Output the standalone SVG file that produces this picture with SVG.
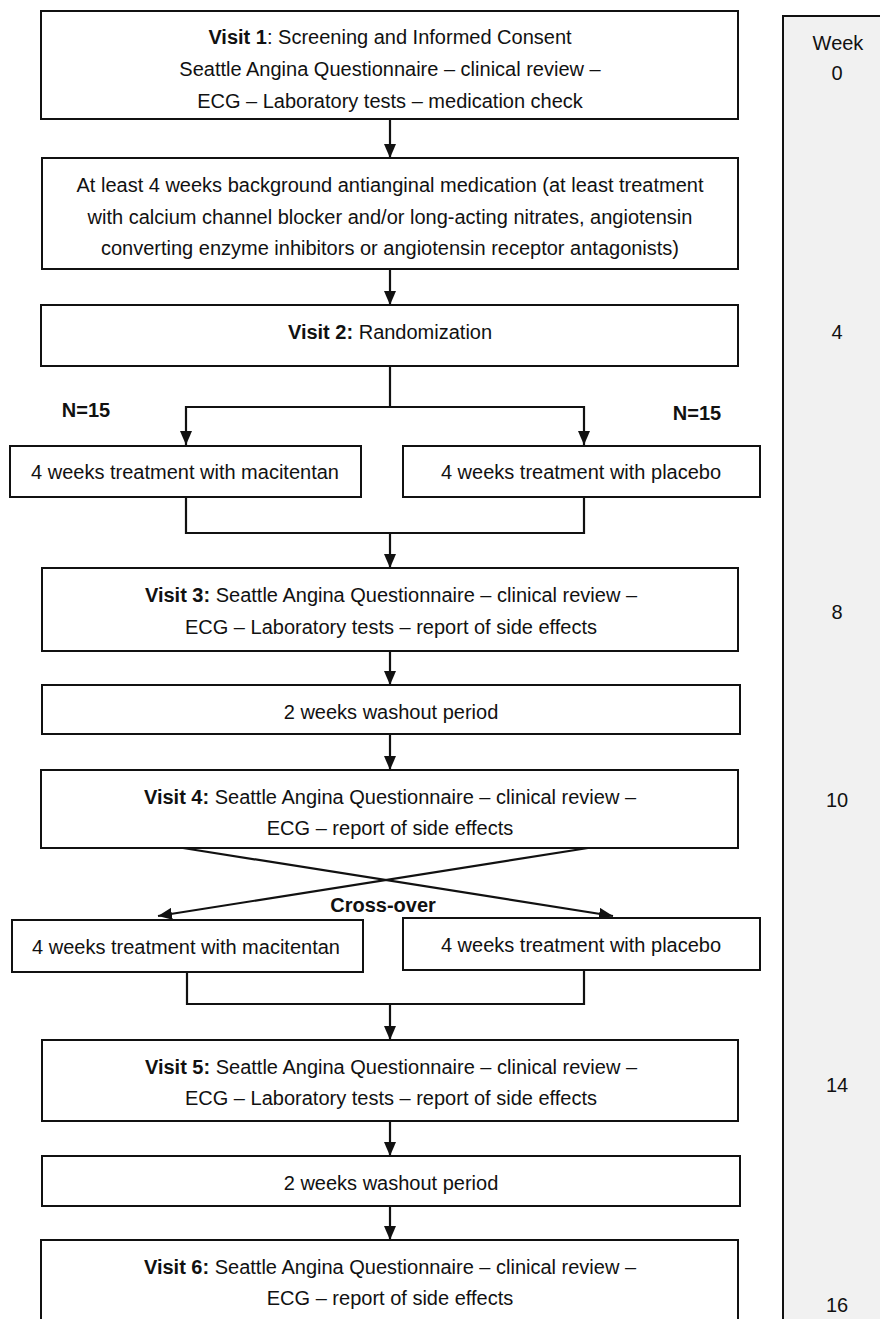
<svg xmlns="http://www.w3.org/2000/svg" width="880" height="1319" viewBox="0 0 880 1319">
<style>
.box{fill:#fff;stroke:#111;stroke-width:2}
.t{font-family:"Liberation Sans",Arial,sans-serif;font-size:20px;fill:#111;text-anchor:middle}
.b{font-weight:bold}
.c{fill:none;stroke:#111;stroke-width:2.2}
</style>
<defs>
<marker id="ah" markerUnits="userSpaceOnUse" markerWidth="14" markerHeight="12" refX="14" refY="6" orient="auto">
<path d="M0,0 L14,6 L0,12 z" fill="#111"/>
</marker>
</defs>
<rect width="880" height="1319" fill="#fff"/>
<g id="week-panel">
<rect x="783" y="16" width="110" height="1320" fill="#f1f1f1" stroke="#111" stroke-width="2"/>
<text class="t" x="838" y="50">Week</text>
<text class="t" x="837" y="80">0</text>
<text class="t" x="837" y="339">4</text>
<text class="t" x="837" y="619">8</text>
<text class="t" x="837" y="807">10</text>
<text class="t" x="837" y="1092">14</text>
<text class="t" x="837" y="1312">16</text>
</g>
<g id="connectors">
<line class="c" x1="390" y1="119" x2="390" y2="158" marker-end="url(#ah)"/>
<line class="c" x1="390" y1="269" x2="390" y2="305" marker-end="url(#ah)"/>
<polyline class="c" points="390,366 390,407 186,407 186,445" marker-end="url(#ah)"/>
<polyline class="c" points="390,407 584,407 584,445" marker-end="url(#ah)"/>
<polyline class="c" points="186,497 186,533 584,533 584,497"/>
<line class="c" x1="390" y1="533" x2="390" y2="568" marker-end="url(#ah)"/>
<line class="c" x1="390" y1="651" x2="390" y2="685" marker-end="url(#ah)"/>
<line class="c" x1="390" y1="734" x2="390" y2="770" marker-end="url(#ah)"/>
<line class="c" x1="183" y1="848" x2="613" y2="916" marker-end="url(#ah)"/>
<line class="c" x1="588" y1="848" x2="158" y2="916" marker-end="url(#ah)"/>
<polyline class="c" points="187,972 187,1004 584,1004 584,970"/>
<line class="c" x1="390" y1="1004" x2="390" y2="1040" marker-end="url(#ah)"/>
<line class="c" x1="390" y1="1121" x2="390" y2="1156" marker-end="url(#ah)"/>
<line class="c" x1="390" y1="1206" x2="390" y2="1240" marker-end="url(#ah)"/>
<text class="t b" x="86" y="417">N=15</text>
<text class="t b" x="697" y="420">N=15</text>
<text class="t b" x="383" y="912">Cross-over</text>
</g>
<g id="visit1">
<rect class="box" x="41" y="11" width="697" height="108"/>
<text class="t" x="390" y="44"><tspan class="b">Visit 1</tspan>: Screening and Informed Consent</text>
<text class="t" x="390" y="76">Seattle Angina Questionnaire – clinical review –</text>
<text class="t" x="390" y="108">ECG – Laboratory tests – medication check</text>
</g>
<g id="background">
<rect class="box" x="42" y="158" width="696" height="111"/>
<text class="t" x="390" y="192">At least 4 weeks background antianginal medication (at least treatment</text>
<text class="t" x="390" y="224">with calcium channel blocker and/or long-acting nitrates, angiotensin</text>
<text class="t" x="390" y="255">converting enzyme inhibitors or angiotensin receptor antagonists)</text>
</g>
<g id="visit2">
<rect class="box" x="41" y="305" width="697" height="61"/>
<text class="t" x="390" y="339"><tspan class="b">Visit 2:</tspan> Randomization</text>
</g>
<g id="macitentan1">
<rect class="box" x="10" y="446" width="351" height="51"/>
<text class="t" x="185" y="479">4 weeks treatment with macitentan</text>
</g>
<g id="placebo1">
<rect class="box" x="403" y="446" width="357" height="51"/>
<text class="t" x="581" y="479">4 weeks treatment with placebo</text>
</g>
<g id="visit3">
<rect class="box" x="42" y="568" width="696" height="83"/>
<text class="t" x="391" y="602"><tspan class="b">Visit 3:</tspan> Seattle Angina Questionnaire – clinical review –</text>
<text class="t" x="391" y="634">ECG – Laboratory tests – report of side effects</text>
</g>
<g id="washout1">
<rect class="box" x="42" y="685" width="698" height="49"/>
<text class="t" x="391" y="719">2 weeks washout period</text>
</g>
<g id="visit4">
<rect class="box" x="41" y="770" width="697" height="78"/>
<text class="t" x="390" y="804"><tspan class="b">Visit 4:</tspan> Seattle Angina Questionnaire – clinical review –</text>
<text class="t" x="390" y="835">ECG – report of side effects</text>
</g>
<g id="macitentan2">
<rect class="box" x="12" y="920" width="351" height="52"/>
<text class="t" x="186" y="954">4 weeks treatment with macitentan</text>
</g>
<g id="placebo2">
<rect class="box" x="403" y="918" width="357" height="52"/>
<text class="t" x="581" y="952">4 weeks treatment with placebo</text>
</g>
<g id="visit5">
<rect class="box" x="42" y="1040" width="696" height="81"/>
<text class="t" x="391" y="1074"><tspan class="b">Visit 5:</tspan> Seattle Angina Questionnaire – clinical review –</text>
<text class="t" x="391" y="1105">ECG – Laboratory tests – report of side effects</text>
</g>
<g id="washout2">
<rect class="box" x="42" y="1156" width="698" height="50"/>
<text class="t" x="391" y="1190">2 weeks washout period</text>
</g>
<g id="visit6">
<rect class="box" x="41" y="1240" width="697" height="100"/>
<text class="t" x="390" y="1274"><tspan class="b">Visit 6:</tspan> Seattle Angina Questionnaire – clinical review –</text>
<text class="t" x="390" y="1305">ECG – report of side effects</text>
</g>
</svg>
